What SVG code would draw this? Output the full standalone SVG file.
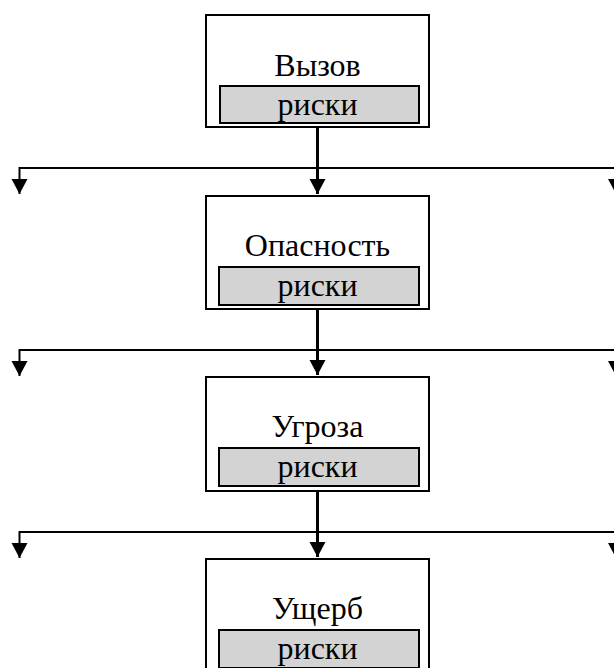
<svg xmlns="http://www.w3.org/2000/svg" width="614" height="668" viewBox="0 0 614 668">
<defs>
<style>
.box{fill:#fff;stroke:#000;stroke-width:2}
.risk{fill:#d3d3d3;stroke:#000;stroke-width:2}
.t{font-family:"Liberation Serif","Times New Roman",serif;font-size:32px;fill:#000;text-anchor:middle}
.main{stroke:#000;stroke-width:3;fill:none}
.side{stroke:#000;stroke-width:2;fill:none}
</style>
<marker id="ah" markerUnits="userSpaceOnUse" markerWidth="16" markerHeight="16" viewBox="0 0 16 16" refX="8" refY="15" orient="0" overflow="visible">
<polygon points="0,0 16,0 8,15" fill="#000"/>
</marker>
</defs>
<rect width="614" height="668" fill="#fff"/>
<g id="connectors">
<path class="main" d="M317.5,128 V194" marker-end="url(#ah)"/>
<path class="side" d="M19.5,168 H616"/>
<path class="side" d="M19.5,167 V194" marker-end="url(#ah)"/>
<path class="side" d="M616,167 V194" marker-end="url(#ah)"/>

<path class="main" d="M317.5,310 V375" marker-end="url(#ah)"/>
<path class="side" d="M19.5,350 H616"/>
<path class="side" d="M19.5,349 V376" marker-end="url(#ah)"/>
<path class="side" d="M616,349 V376" marker-end="url(#ah)"/>

<path class="main" d="M317.5,492 V557" marker-end="url(#ah)"/>
<path class="side" d="M19.5,532 H616"/>
<path class="side" d="M19.5,531 V558" marker-end="url(#ah)"/>
<path class="side" d="M616,531 V558" marker-end="url(#ah)"/>
</g>
<g id="node-vyzov">
<rect class="box" x="206" y="15" width="223" height="112"/>
<rect class="risk" x="220" y="86" width="199" height="37"/>
<text class="t" x="317.5" y="76">Вызов</text>
<text class="t" x="317.5" y="115">риски</text>
</g>
<g id="node-opasnost">
<rect class="box" x="206" y="196" width="223" height="113"/>
<rect class="risk" x="219" y="267" width="200" height="38"/>
<text class="t" x="317.5" y="256">Опасность</text>
<text class="t" x="317.5" y="296">риски</text>
</g>
<g id="node-ugroza">
<rect class="box" x="206" y="377" width="223" height="114"/>
<rect class="risk" x="219" y="448" width="200" height="38"/>
<text class="t" x="317.5" y="437">Угроза</text>
<text class="t" x="317.5" y="477">риски</text>
</g>
<g id="node-usherb">
<rect class="box" x="206" y="559" width="223" height="114"/>
<rect class="risk" x="219" y="630" width="200" height="38"/>
<text class="t" x="317.5" y="619">Ущерб</text>
<text class="t" x="317.5" y="659">риски</text>
</g>
</svg>
